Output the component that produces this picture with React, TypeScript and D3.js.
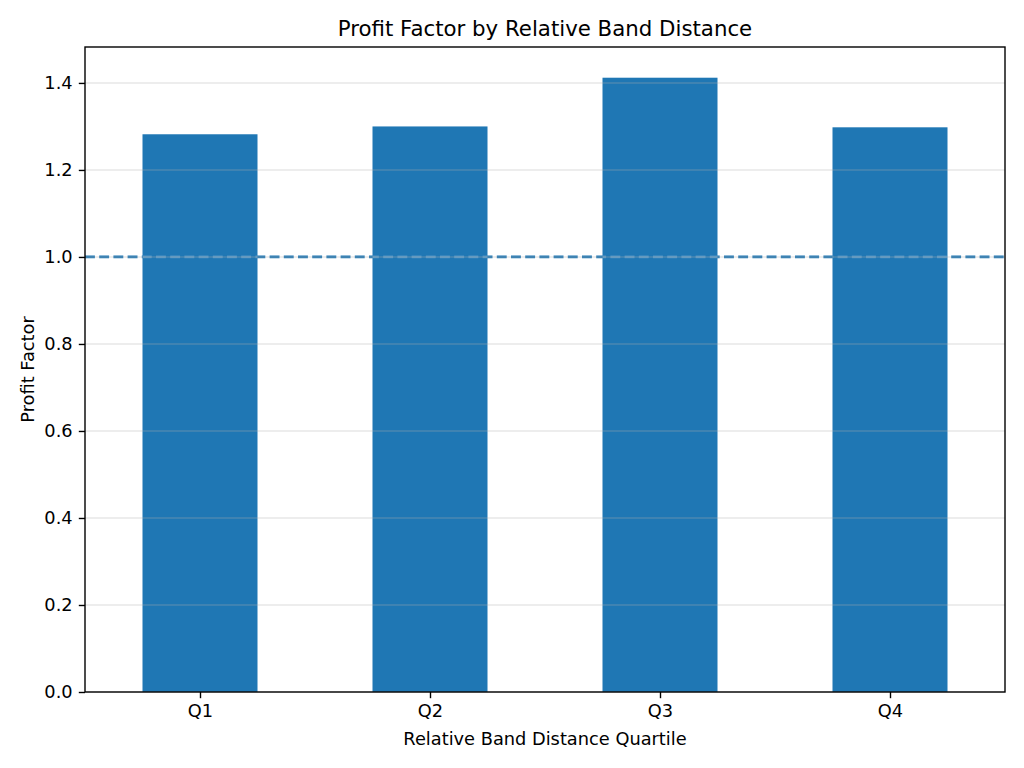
// Profit factor per relative band distance quartile - D3 bar chart

import { useEffect, useRef } from "react";
import * as d3 from "d3";

const quartiles = ["Q1", "Q2", "Q3", "Q4"];
const profitFactor = [1.282, 1.3, 1.412, 1.298];
const yTicks = [0, 0.2, 0.4, 0.6, 0.8, 1.0, 1.2, 1.4];
const breakEven = 1.0;

const WIDTH = 1024;
const HEIGHT = 768;
const FONT = "'DejaVu Sans', sans-serif";

export default function App() {
  const svgRef = useRef<SVGSVGElement>(null);

  useEffect(() => {
    if (!svgRef.current) return;
    const svg = d3.select(svgRef.current);
    svg.selectAll("*").remove();

    const left = 85;
    const right = 1005;
    const top = 47;
    const bottom = 692;

    // matplotlib-style categorical axis: each bar centred on an integer, width 0.5
    const x = d3
      .scaleLinear()
      .domain([-0.5, quartiles.length - 0.5])
      .range([left, right]);
    const barWidth = 0.5;

    const yMax = (d3.max(profitFactor) ?? 1) * 1.05;
    const y = d3.scaleLinear().domain([0, yMax]).range([bottom, top]);

    const blue = "#1f77b4";
    const dash = "9.9,4.3";
    const lw = 2.67;

    // break-even line below bars
    svg
      .append("line")
      .attr("x1", left)
      .attr("x2", right)
      .attr("y1", y(breakEven))
      .attr("y2", y(breakEven))
      .attr("stroke", blue)
      .attr("stroke-width", lw)
      .attr("stroke-dasharray", dash);

    // bars
    svg
      .append("g")
      .selectAll("rect")
      .data(profitFactor)
      .join("rect")
      .attr("x", (_, i) => x(i - barWidth / 2))
      .attr("width", (_, i) => x(i + barWidth / 2) - x(i - barWidth / 2))
      .attr("y", (d) => y(d))
      .attr("height", (d) => y(0) - y(d))
      .attr("fill", blue);

    // faint see-through of the dashed line over the bars
    profitFactor.forEach((_, i) => {
      const x0 = x(i - barWidth / 2);
      const x1 = x(i + barWidth / 2);
      svg
        .append("line")
        .attr("x1", x0)
        .attr("x2", x1)
        .attr("y1", y(breakEven))
        .attr("y2", y(breakEven))
        .attr("stroke", "#ffffff")
        .attr("stroke-opacity", 0.22)
        .attr("stroke-width", lw)
        .attr("stroke-dasharray", dash)
        .attr("stroke-dashoffset", x0 - left);
    });

    // horizontal grid (drawn over bars, semi-transparent)
    svg
      .append("g")
      .selectAll("line")
      .data(yTicks)
      .join("line")
      .attr("x1", left)
      .attr("x2", right)
      .attr("y1", (d) => y(d))
      .attr("y2", (d) => y(d))
      .attr("stroke", "#b0b0b0")
      .attr("stroke-opacity", 0.3)
      .attr("stroke-width", 1.4);

    // y axis
    const yAxis = svg
      .append("g")
      .attr("transform", `translate(${left},0)`)
      .call(
        d3
          .axisLeft(y)
          .tickValues(yTicks)
          .tickFormat(d3.format(".1f"))
          .tickSize(6.2)
          .tickPadding(6.2)
      );
    yAxis.select(".domain").remove();
    yAxis.selectAll("line").attr("stroke", "#000").attr("stroke-width", 1.4);
    yAxis
      .selectAll("text")
      .attr("fill", "#000")
      .style("font-family", FONT)
      .style("font-size", "17.8px");

    // x axis
    const xAxis = svg
      .append("g")
      .attr("transform", `translate(0,${bottom})`)
      .call(
        d3
          .axisBottom(x)
          .tickValues(d3.range(quartiles.length))
          .tickFormat((d) => quartiles[d as number])
          .tickSize(6.2)
          .tickPadding(6.2)
      );
    xAxis.select(".domain").remove();
    xAxis.selectAll("line").attr("stroke", "#000").attr("stroke-width", 1.4);
    xAxis
      .selectAll("text")
      .attr("fill", "#000")
      .style("font-family", FONT)
      .style("font-size", "17.8px");

    // spines
    svg
      .append("rect")
      .attr("x", left)
      .attr("y", top)
      .attr("width", right - left)
      .attr("height", bottom - top)
      .attr("fill", "none")
      .attr("stroke", "#000")
      .attr("stroke-width", 1.4);

    // title and labels
    svg
      .append("text")
      .attr("x", (left + right) / 2)
      .attr("y", 36)
      .attr("text-anchor", "middle")
      .style("font-family", FONT)
      .style("font-size", "21.3px")
      .attr("fill", "#000")
      .text("Profit Factor by Relative Band Distance");

    svg
      .append("text")
      .attr("x", (left + right) / 2)
      .attr("y", 745)
      .attr("text-anchor", "middle")
      .style("font-family", FONT)
      .style("font-size", "17.8px")
      .attr("fill", "#000")
      .text("Relative Band Distance Quartile");

    svg
      .append("text")
      .attr("transform", `translate(34,${(top + bottom) / 2}) rotate(-90)`)
      .attr("text-anchor", "middle")
      .style("font-family", FONT)
      .style("font-size", "17.8px")
      .attr("fill", "#000")
      .text("Profit Factor");
  }, []);

  return (
    <div style={{ position: "absolute", left: 0, top: 0 }}>
      <svg
        ref={svgRef}
        width={WIDTH}
        height={HEIGHT}
        style={{ display: "block", background: "#fff" }}
      />
    </div>
  );
}
